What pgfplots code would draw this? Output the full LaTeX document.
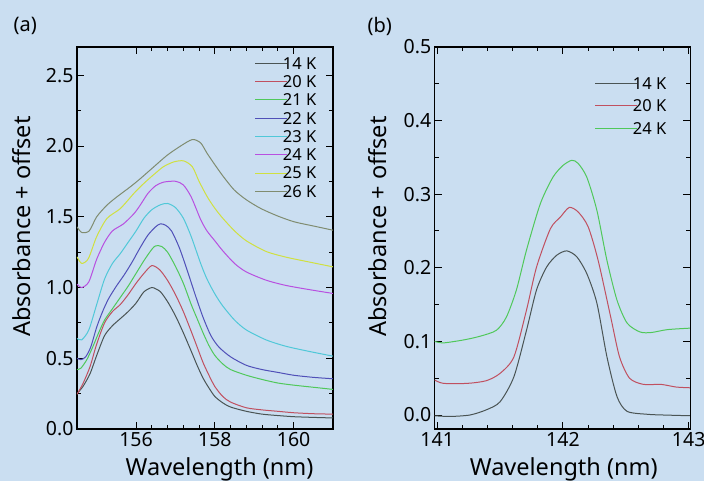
\documentclass[border=0pt]{standalone}
\usepackage{fontspec}
\setmainfont{Noto Sans}
\usepackage{pgfplots}
\pgfplotsset{compat=1.18}

\definecolor{bgc}{RGB}{202,222,241}
\definecolor{c14}{RGB}{74,84,84}
\definecolor{c20}{RGB}{192,80,96}
\definecolor{c21}{RGB}{80,200,90}
\definecolor{c22}{RGB}{80,80,184}
\definecolor{c23}{RGB}{80,200,216}
\definecolor{c24}{RGB}{184,80,224}
\definecolor{c25}{RGB}{208,224,64}
\definecolor{c26}{RGB}{128,140,112}

\newcommand{\legtxt}[1]{\hspace*{-5pt}#1}

\pgfplotsset{
  panel/.style={
    scale only axis,
    height=382pt,
    anchor=south west,
    axis line style={line width=1.1pt},
    tick style={line width=1pt, black},
    tick align=inside,
    major tick length=7pt,
    minor tick length=4pt,
    /pgf/number format/assume math mode=true,
    ticklabel style={font=\fontsize{19.5}{24}\selectfont},
    label style={font=\fontsize{23.5}{28}\selectfont},
    xlabel={Wavelength (nm)},
    ylabel={Absorbance + offset},
    legend cell align=left,
    every axis plot/.append style={line width=1pt, smooth, tension=0.45},
  },
  leg/.style={
    legend style={draw=none, fill=none, inner sep=0pt, outer sep=0pt,
      font=\fontsize{16.5}{18}\selectfont,
      nodes={inner sep=0pt, outer sep=0pt, text height=11.8pt, text depth=0pt},
      column sep=0pt, row sep=#1},
  },
}

\begin{document}
\begin{tikzpicture}
\useasboundingbox (0,0) rectangle (704pt,481pt);
\fill[bgc] (0,0) rectangle (704pt,481pt);

\node[anchor=west, font=\fontsize{20}{24}\selectfont] at (10pt,455pt) {(a)};
\node[anchor=west, font=\fontsize{20}{24}\selectfont] at (364pt,455pt) {(b)};

% panel (a)
\begin{axis}[panel, leg=6.5pt,
  at={(77pt,52pt)}, width=256pt,
  xmin=154.5, xmax=161, ymin=0, ymax=2.7,
  xtick={156,158,160}, minor x tick num=4,
  ytick={0,0.5,...,2.5}, minor y tick num=1,
  yticklabel style={/pgf/number format/.cd, fixed, fixed zerofill, precision=1},
  xlabel style={at={(axis description cs:0.557,-0.121)}, anchor=base},
  ylabel style={at={(axis description cs:-0.215,0.53)}, anchor=center},
  legend style={at={(rel axis cs:0.695,0.973)}, anchor=north west},
  legend image code/.code={\draw[#1, sharp plot] (0pt,0pt) -- (32pt,0pt);},
]
\addplot[c14] coordinates {
(154.5,0.25)(154.65,0.30)(154.83,0.39)(155.0,0.52)(155.2,0.66)(155.4,0.73)(155.6,0.78)
(155.8,0.83)(156.0,0.89)(156.2,0.97)(156.4,1.00)(156.5,0.99)(156.62,0.97)(156.8,0.90)
(157.0,0.80)(157.2,0.68)(157.4,0.55)(157.55,0.45)(157.7,0.36)(157.85,0.29)(158.0,0.23)
(158.2,0.185)(158.4,0.155)(158.8,0.125)(159.2,0.105)(159.6,0.095)(160.0,0.087)(160.5,0.082)(161.0,0.078)};
\addlegendentry{\legtxt{14 K}}
\addplot[c20] coordinates {
(154.5,0.245)(154.65,0.32)(154.83,0.44)(155.0,0.60)(155.2,0.75)(155.4,0.83)(155.6,0.88)
(155.8,0.95)(156.0,1.03)(156.2,1.10)(156.4,1.155)(156.6,1.125)(156.8,1.05)(157.0,0.95)
(157.2,0.83)(157.4,0.69)(157.55,0.58)(157.7,0.47)(157.85,0.38)(158.0,0.30)(158.2,0.23)
(158.4,0.19)(158.8,0.15)(159.2,0.135)(159.6,0.125)(160.0,0.115)(160.5,0.108)(161.0,0.105)};
\addlegendentry{\legtxt{20 K}}
\addplot[c21] coordinates {
(154.5,0.42)(154.6,0.43)(154.75,0.49)(154.9,0.58)(155.05,0.68)(155.2,0.77)(155.4,0.85)
(155.6,0.93)(155.8,1.01)(156.0,1.10)(156.2,1.19)(156.4,1.27)(156.5,1.295)(156.65,1.29)
(156.8,1.25)(157.0,1.15)(157.2,1.03)(157.4,0.88)(157.55,0.78)(157.7,0.68)(157.85,0.59)
(158.0,0.52)(158.2,0.46)(158.4,0.42)(158.8,0.38)(159.2,0.35)(159.6,0.325)(160.0,0.31)(160.5,0.295)(161.0,0.28)};
\addlegendentry{\legtxt{21 K}}
\addplot[c22] coordinates {
(154.5,0.50)(154.6,0.49)(154.72,0.51)(154.85,0.58)(155.0,0.72)(155.15,0.83)(155.3,0.92)
(155.5,1.01)(155.7,1.09)(155.9,1.18)(156.1,1.28)(156.3,1.37)(156.5,1.43)(156.62,1.45)
(156.75,1.44)(156.9,1.40)(157.1,1.28)(157.3,1.12)(157.5,0.95)(157.7,0.79)(157.9,0.66)
(158.1,0.58)(158.4,0.51)(158.8,0.45)(159.2,0.42)(159.6,0.40)(160.0,0.38)(160.5,0.365)(161.0,0.355)};
\addlegendentry{\legtxt{22 K}}
\addplot[c23] coordinates {
(154.5,0.64)(154.62,0.63)(154.8,0.70)(155.0,0.88)(155.2,1.06)(155.4,1.17)(155.6,1.24)
(155.8,1.32)(156.0,1.40)(156.2,1.49)(156.4,1.55)(156.62,1.585)(156.8,1.594)(157.0,1.565)
(157.2,1.49)(157.4,1.36)(157.64,1.17)(157.8,1.06)(158.0,0.955)(158.2,0.87)(158.5,0.77)
(158.8,0.70)(159.3,0.63)(159.8,0.585)(160.4,0.548)(161.0,0.515)};
\addlegendentry{\legtxt{23 K}}
\addplot[c24] coordinates {
(154.5,1.024)(154.62,1.0)(154.8,1.04)(155.0,1.20)(155.2,1.32)(155.4,1.40)(155.68,1.45)
(155.94,1.52)(156.1,1.58)(156.3,1.665)(156.5,1.72)(156.7,1.745)(157.0,1.751)(157.2,1.725)
(157.4,1.64)(157.64,1.48)(157.8,1.40)(158.0,1.33)(158.2,1.26)(158.5,1.17)(158.8,1.11)
(159.3,1.052)(159.8,1.015)(160.4,0.985)(161.0,0.958)};
\addlegendentry{\legtxt{24 K}}
\addplot[c25] coordinates {
(154.5,1.217)(154.62,1.17)(154.79,1.205)(155.0,1.36)(155.26,1.488)(155.6,1.558)(155.94,1.664)
(156.1,1.71)(156.3,1.762)(156.5,1.81)(156.7,1.855)(156.96,1.888)(157.21,1.895)(157.43,1.853)
(157.6,1.75)(157.81,1.64)(158.0,1.56)(158.2,1.49)(158.5,1.40)(158.8,1.33)(159.3,1.255)
(159.8,1.215)(160.4,1.18)(161.0,1.146)};
\addlegendentry{\legtxt{25 K}}
\addplot[c26] coordinates {
(154.5,1.429)(154.62,1.389)(154.81,1.40)(155.0,1.5)(155.26,1.582)(155.51,1.64)(155.85,1.711)
(156.11,1.77)(156.45,1.853)(156.79,1.935)(157.13,2.0)(157.43,2.046)(157.64,2.022)(157.8,1.95)
(157.98,1.876)(158.2,1.79)(158.49,1.69)(158.8,1.62)(159.17,1.558)(159.6,1.505)(160.02,1.464)
(160.5,1.435)(161.0,1.405)};
\addlegendentry{\legtxt{26 K}}
\end{axis}

% panel (b)
\begin{axis}[panel, leg=10.7pt,
  at={(434.7pt,52pt)}, width=255.6pt,
  xmin=140.98, xmax=143.013, ymin=-0.019, ymax=0.5,
  xtick={141,142,143}, minor x tick num=4,
  ytick={0,0.1,...,0.5}, minor y tick num=1,
  yticklabel style={/pgf/number format/.cd, fixed, fixed zerofill, precision=1},
  xlabel style={at={(axis description cs:0.505,-0.121)}, anchor=base},
  ylabel style={at={(axis description cs:-0.222,0.53)}, anchor=center},
  legend style={at={(rel axis cs:0.627,0.920)}, anchor=north west},
  legend image code/.code={\draw[#1, sharp plot] (0pt,0pt) -- (42pt,0pt);},
]
\addplot[c14] coordinates {
(140.98,-0.001)(141.1,-0.002)(141.26,0.0)(141.39,0.007)(141.5,0.018)(141.61,0.052)(141.71,0.115)
(141.79,0.17)(141.87,0.201)(141.95,0.217)(142.03,0.223)(142.11,0.215)(142.19,0.192)(142.27,0.152)
(142.35,0.079)(142.43,0.025)(142.51,0.005)(142.67,0.001)(142.8,0.0)(143.01,-0.001)};
\addlegendentry{\legtxt{14 K}}
\addplot[c20] coordinates {
(140.98,0.0475)(141.05,0.043)(141.24,0.043)(141.39,0.0466)(141.5,0.0566)(141.61,0.079)(141.71,0.1425)
(141.79,0.201)(141.9,0.253)(141.98,0.269)(142.05,0.282)(142.12,0.276)(142.2,0.256)(142.28,0.21)
(142.38,0.133)(142.45,0.079)(142.53,0.05)(142.64,0.0416)(142.78,0.0416)(142.9,0.038)(143.01,0.037)};
\addlegendentry{\legtxt{20 K}}
\addplot[c21] coordinates {
(140.98,0.1)(141.05,0.098)(141.21,0.102)(141.34,0.107)(141.47,0.115)(141.55,0.133)(141.63,0.17)
(141.71,0.224)(141.82,0.287)(141.92,0.323)(142.0,0.339)(142.07,0.346)(142.12,0.342)(142.19,0.323)
(142.27,0.278)(142.35,0.21)(142.43,0.156)(142.51,0.125)(142.61,0.113)(142.7,0.112)(142.83,0.116)(143.01,0.118)};
\addlegendentry{\legtxt{24 K}}
\end{axis}
\end{tikzpicture}
\end{document}
